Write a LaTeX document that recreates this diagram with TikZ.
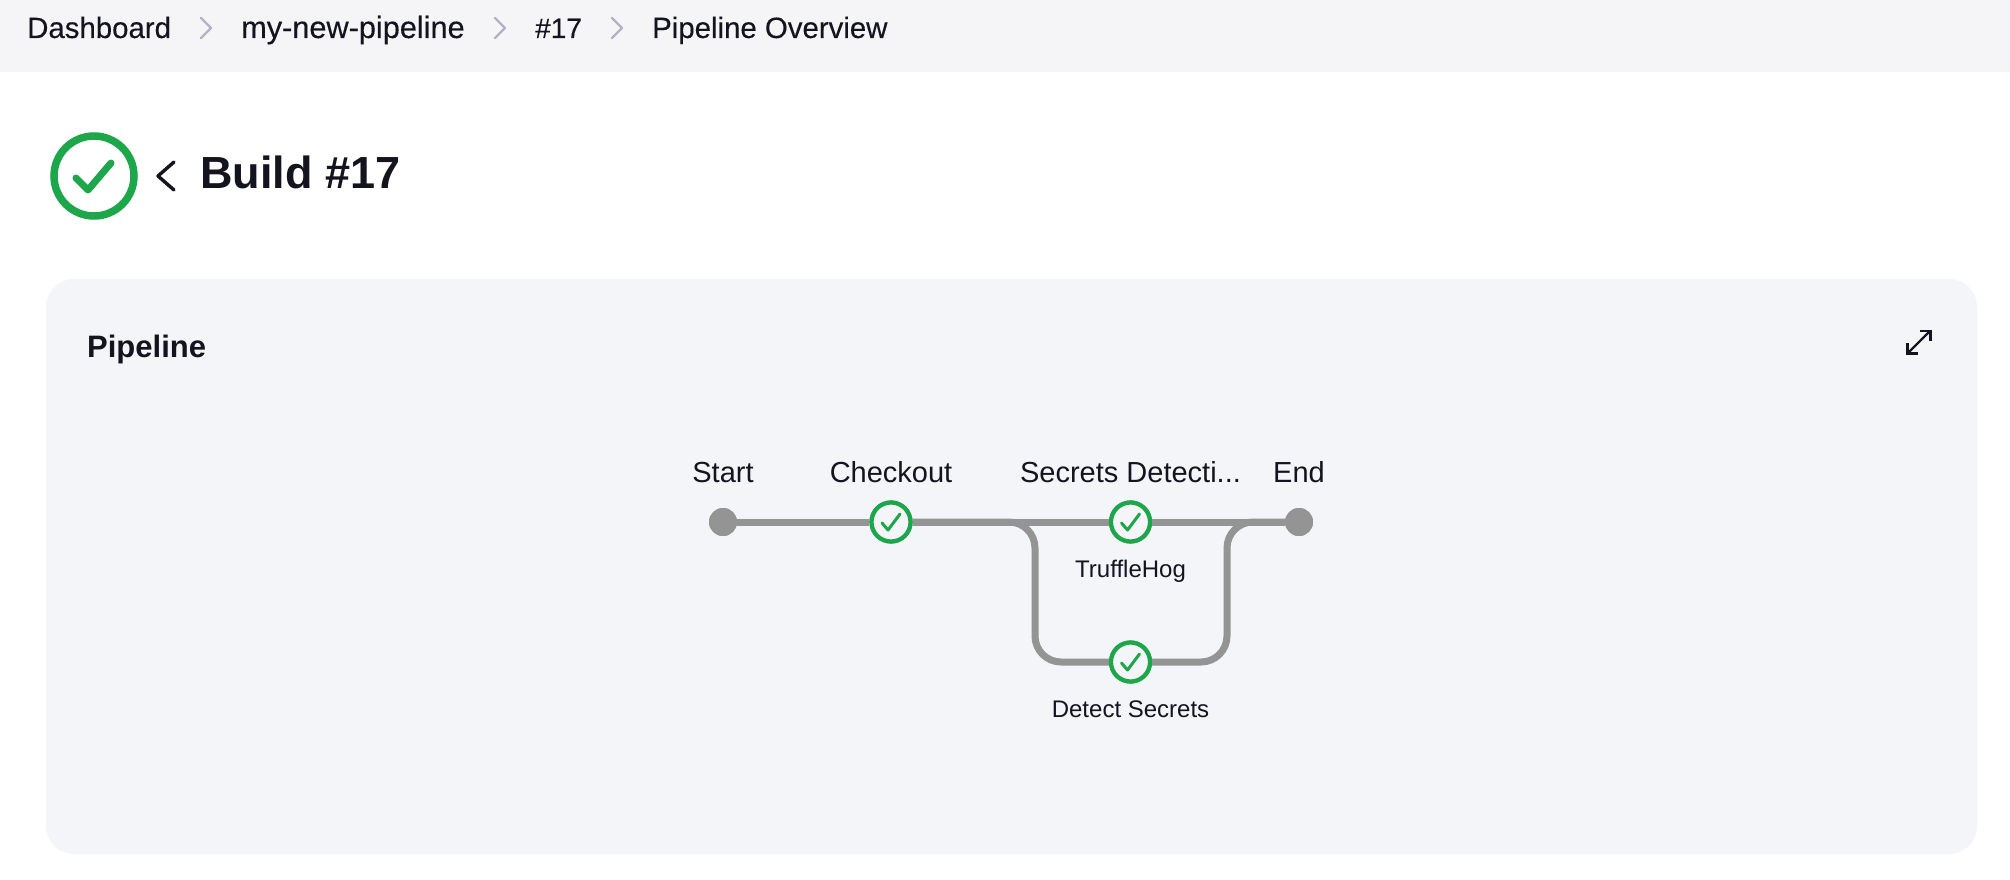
\documentclass[tikz,border=0pt]{standalone}
\usepackage{fontspec}
\setmainfont{Liberation Sans}
\newfontfamily\medfont[FakeBold=0.25]{Liberation Sans}
\definecolor{bandgray}{HTML}{F5F5F8}
\definecolor{cardgray}{HTML}{F4F5F9}
\definecolor{inkdark}{HTML}{14141F}
\definecolor{okgreen}{HTML}{1EA64A}
\definecolor{linegray}{HTML}{949494}
\definecolor{chevgray}{HTML}{B2B2C4}
\tikzset{
  x=1pt,y=-1pt,
  crumb/.style={anchor=base west,inner sep=0pt,text=inkdark,font=\medfont\fontsize{29.4}{32}\selectfont},
  stagelabel/.style={anchor=base,inner sep=0pt,text=inkdark,font=\fontsize{29}{32}\selectfont},
  subl/.style={anchor=base,inner sep=0pt,text=inkdark,font=\fontsize{24}{28}\selectfont},
  chev/.style={draw=chevgray,line width=2.4pt,line cap=round,line join=round},
  okstage/.style={circle,draw=okgreen,fill=cardgray,line width=4.2pt,minimum size=39pt,inner sep=0pt},
  enddot/.style={circle,fill=linegray,minimum size=28pt,inner sep=0pt},
  pipe/.style={draw=linegray,line width=7pt},
  okmark/.style={draw=okgreen,line width=3pt,line cap=round,line join=round},
}
\begin{document}
\begin{tikzpicture}
\useasboundingbox (0,0) rectangle (2010,880);
\fill[white] (0,0) rectangle (2010,880);
\fill[bandgray] (0,0) rectangle (2010,72);
% breadcrumb
\node[crumb] (c1) at (27,38) {Dashboard};
\node[crumb,font=\medfont\fontsize{30.7}{32}\selectfont] (c2) at (241,38) {my-new-pipeline};
\node[crumb,font=\medfont\fontsize{28}{32}\selectfont] (c3) at (535,38) {\#17};
\node[crumb] (c4) at (652,38) {Pipeline Overview};
\draw[chev] (201,18) -- (211,28) -- (201,38);
\draw[chev] (495,18) -- (505,28) -- (495,38);
\draw[chev] (612,18) -- (622,28) -- (612,38);
% title
\draw[okgreen,line width=7.5pt] (94,176) circle (40);
\draw[okgreen,line width=7pt,line cap=round,line join=round] (76,178) -- (88,190) -- (111,163);
\draw[inkdark,line width=3.4pt,line cap=round,line join=round] (174,162) -- (158,176) -- (174,190);
\node[anchor=base west,inner sep=0pt,text=inkdark,font=\fontsize{45}{50}\selectfont\bfseries] (title) at (200,188) {Build \#17};
% card
\fill[cardgray,rounded corners=28pt] (46,279) rectangle (1977,854);
\node[anchor=base west,inner sep=0pt,text=inkdark,font=\fontsize{31}{34}\selectfont\bfseries] (pl) at (87,357) {Pipeline};
% expand icon
\draw[inkdark,line width=2.4pt] (1909,352) -- (1929,332);
\draw[inkdark,line width=2.4pt,line join=miter] (1907.5,343) -- (1907.5,353.5) -- (1918,353.5);
\draw[inkdark,line width=2.4pt,line join=miter] (1920,331) -- (1930.5,331) -- (1930.5,341);
% pipeline nodes
\coordinate (tl) at (1035,522);
\coordinate (bl) at (1035,662);
\coordinate (tr) at (1227,522);
\coordinate (br) at (1227,662);
\node[enddot] (start) at (723,522) {};
\node[enddot] (end) at (1299,522) {};
\node[okstage] (check) at (891,522) {};
\node[okstage] (truffle) at (1130.5,522) {};
\node[okstage] (detect) at (1130.5,662) {};
\draw[pipe] (start) -- (check);
\draw[pipe] (check) -- (truffle);
\draw[pipe] (truffle) -- (end);
\draw[pipe,rounded corners=26pt] (check) -- (tl) -- (bl) -- (detect);
\draw[pipe,rounded corners=26pt] (detect) -- (br) -- (tr) -- (end);
% redraw on top of the lines
\node[enddot] at (start) {};
\node[enddot] at (end) {};
\node[okstage] at (check) {};
\node[okstage] at (truffle) {};
\node[okstage] at (detect) {};
\foreach \n in {check,truffle,detect}{
  \draw[okmark] ([shift={(-9,1)}]\n.center) -- ([shift={(-3,8)}]\n.center) -- ([shift={(9,-8)}]\n.center);
}
% labels
\node[stagelabel] (l1) at (723,482) {Start};
\node[stagelabel] (l2) at (891,482) {Checkout};
\node[stagelabel] (l3) at (1130.5,482) {Secrets Detecti...};
\node[stagelabel] (l4) at (1299,482) {End};
\node[subl] (l5) at (1130.5,577) {TruffleHog};
\node[subl] (l6) at (1130.5,717) {Detect Secrets};
\end{tikzpicture}
\end{document}
